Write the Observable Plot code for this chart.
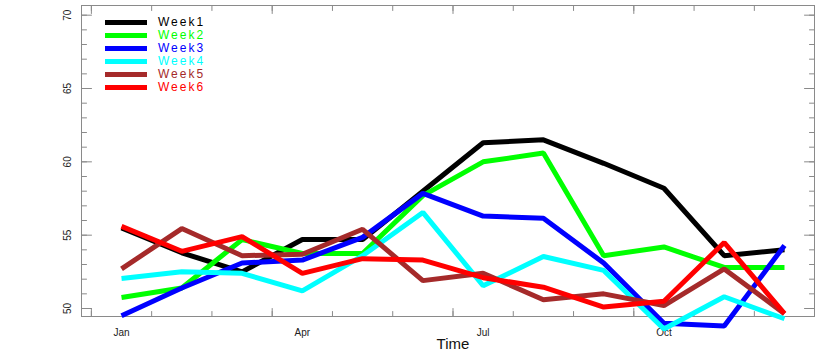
<!DOCTYPE html>
<html>
<head>
<meta charset="utf-8">
<script src="https://cdn.jsdelivr.net/npm/d3@7"></script>
<script src="https://cdn.jsdelivr.net/npm/@observablehq/plot@0.6"></script>
<style>
  html, body { margin: 0; padding: 0; background: #fff; }
  #wrap { position: relative; width: 815px; height: 351px; font-family: "Liberation Sans", Arial, sans-serif; }
  #legend { position: absolute; left: 105px; top: 16px; }
  .item { display: flex; align-items: center; height: 13px; }
  .swatch { width: 42px; height: 5px; margin-right: 11px; }
  .lab { display: inline-block; height: 13px; font-size: 12px; letter-spacing: 2px; line-height: 13px; overflow: visible; }
</style>
</head>
<body>
<div id="wrap"></div>
<script>
// ---- data ----
const months = ["Jan","Feb","Mar","Apr","May","Jun","Jul","Aug","Sep","Oct","Nov","Dec"];
const seriesNames = ["Week1","Week2","Week3","Week4","Week5","Week6"];
const seriesColors = ["#000000","#00ff00","#0000ff","#00ffff","#a52a2a","#ff0000"];
const week1 = [55.5, 53.8, 52.5, 54.7, 54.7, 58.0, 61.3, 61.5, 59.9, 58.2, 53.6, 54.0];
const week2 = [50.75, 51.4, 54.7, 53.75, 53.75, 57.7, 60.0, 60.6, 53.6, 54.2, 52.8, 52.8];
const week3 = [49.5, 51.4, 53.1, 53.3, 54.85, 57.85, 56.3, 56.15, 53.1, 49.0, 48.8, 54.3];
const week4 = [52.05, 52.5, 52.4, 51.2, 53.6, 56.55, 51.55, 53.55, 52.6, 48.6, 50.8, 49.3];
const week5 = [52.7, 55.45, 53.6, 53.7, 55.4, 51.9, 52.4, 50.6, 51.0, 50.2, 52.7, 49.65];
const week6 = [55.6, 53.9, 54.9, 52.4, 53.4, 53.3, 52.1, 51.45, 50.1, 50.5, 54.5, 49.65];
const allWeeks = [week1, week2, week3, week4, week5, week6];
const xLabels = [{i: 0, t: "Jan"}, {i: 3, t: "Apr"}, {i: 6, t: "Jul"}, {i: 9, t: "Oct"}];
const yLabels = [50, 55, 60, 65, 70];
const yMinor = d3.range(50, 71, 1);
const xMinor = d3.range(-0.5, 12, 1);
const xMajor = [-0.5, 2.5, 5.5, 8.5, 11.5];

// ---- table ----
const rows = [];
seriesNames.forEach((name, s) => {
  allWeeks[s].forEach((v, i) => rows.push({series: name, i, v}));
});

const tickShape = {draw(ctx, l) { ctx.moveTo(0, 0); ctx.lineTo(0, -l); }};
const axisColor = "#8a8a8a";

function ticks(data, channel, anchor, rotate, length) {
  const o = {frameAnchor: anchor, rotate, length, anchor: "start", shape: tickShape, stroke: axisColor, strokeWidth: 1};
  o[channel] = d => d;
  return Plot.vector(data, o);
}

const chart = Plot.plot({
  width: 815,
  height: 351,
  marginLeft: 81,
  marginRight: 1,
  marginTop: 5,
  marginBottom: 35,
  style: {background: "#fff", fontFamily: "Liberation Sans, Arial, sans-serif"},
  x: {type: "linear", domain: [-0.664, 11.498], axis: null},
  y: {domain: [49.455, 70.66], axis: null},
  color: {domain: seriesNames, range: seriesColors},
  marks: [
    Plot.frame({stroke: axisColor}),
    ticks(yMinor, "y", "left", 90, 5),
    ticks(yLabels, "y", "left", 90, 10),
    ticks(yMinor, "y", "right", -90, 5),
    ticks(yLabels, "y", "right", -90, 10),
    ticks(xMinor, "x", "bottom", 0, 5),
    ticks(xMajor, "x", "bottom", 0, 8),
    ticks(xMinor, "x", "top", 180, 5),
    ticks(xMajor, "x", "top", 180, 8),
    Plot.text(yLabels, {y: d => d, text: d => String(d), frameAnchor: "left", dx: -14, rotate: -90, textAnchor: "middle", lineAnchor: "middle", fontSize: 10, fill: "#222"}),
    Plot.text(xLabels, {x: "i", text: "t", frameAnchor: "bottom", dy: 16, lineAnchor: "middle", fontSize: 10, fill: "#222"}),
    Plot.text(["Time"], {text: d => d, frameAnchor: "bottom", dx: 5, dy: 28, lineAnchor: "middle", fontSize: 15, fill: "#111"}),
    Plot.line(rows, {x: "i", y: "v", z: "series", stroke: "series", strokeWidth: 5, strokeLinejoin: "miter", strokeLinecap: "butt"})
  ]
});

const wrap = document.getElementById("wrap");
wrap.appendChild(chart);

const legend = document.createElement("div");
legend.id = "legend";
seriesNames.forEach((name, s) => {
  const item = document.createElement("div");
  item.className = "item";
  const sw = document.createElement("div");
  sw.className = "swatch";
  sw.style.background = seriesColors[s];
  const lab = document.createElement("span");
  lab.className = "lab";
  lab.style.color = seriesColors[s];
  lab.textContent = name;
  item.appendChild(sw);
  item.appendChild(lab);
  legend.appendChild(item);
});
wrap.appendChild(legend);
</script>
</body>
</html>
